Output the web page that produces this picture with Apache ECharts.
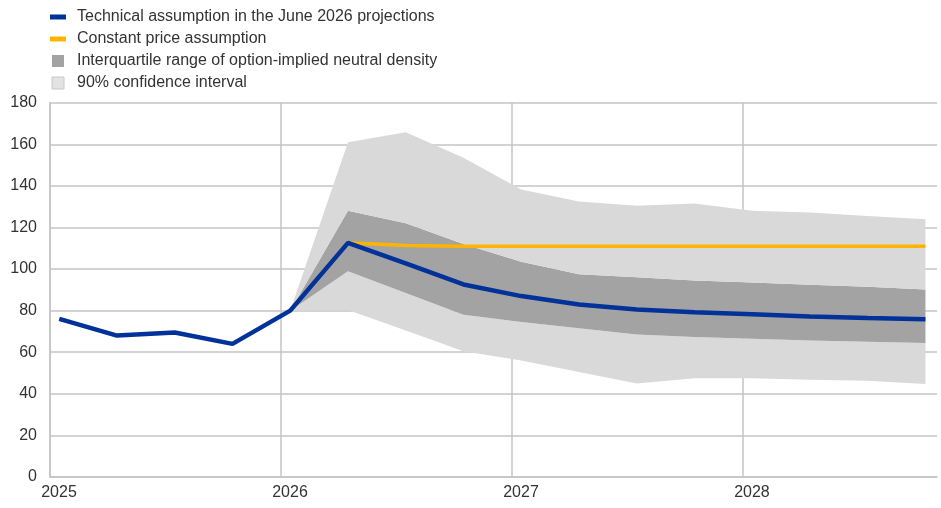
<!DOCTYPE html>
<html>
<head>
<meta charset="utf-8">
<script src="https://cdn.jsdelivr.net/npm/echarts@6/dist/echarts.min.js"></script>
<style>
html,body{margin:0;padding:0;background:#fff;}
#chart{width:941px;height:508px;}
</style>
</head>
<body>
<div id="chart"></div>
<script>
// ---- data ----
const quarters = ['2025Q1','2025Q2','2025Q3','2025Q4','2026Q1','2026Q2','2026Q3','2026Q4',
                  '2027Q1','2027Q2','2027Q3','2027Q4','2028Q1','2028Q2','2028Q3','2028Q4'];
const yearLabels = ['2025','2026','2027','2028'];
const yTicks = [0,20,40,60,80,100,120,140,160,180];

const technical     = [76, 68, 69.5, 64, 80, 112.6, 102.7, 92.6, 87, 83, 80.6, 79.2, 78.3, 77.2, 76.5, 75.9];
const constantPrice = [null, null, null, null, 80, 112.6, 111.3, 111, 111, 111, 111, 111, 111, 111, 111, 111];
const ci90Low       = [null, null, null, null, 80, 80.3, 70.5, 60.5, 56, 50.5, 45, 47.5, 47.5, 46.8, 46.3, 44.7];
const iqrLow        = [null, null, null, null, 80, 99, 88.5, 78, 74.5, 71.5, 68.5, 67.3, 66.5, 65.7, 65, 64.5];
const iqrHigh       = [null, null, null, null, 80, 128, 122, 112, 103.5, 97.5, 96, 94.5, 93.5, 92.5, 91.5, 90.2];
const ci90High      = [null, null, null, null, 80, 161, 165.8, 153.5, 138.2, 132.5, 130.5, 131.5, 128, 127.2, 125.5, 124];

const names = {
  tech: 'Technical assumption in the June 2026 projections',
  cons: 'Constant price assumption',
  iqr: 'Interquartile range of option-implied neutral density',
  ci: '90% confidence interval'
};
const colors = {tech:'#003299', cons:'#ffb400', iqr:'#a3a3a3', ci:'#d9d9d9', grid:'#c4c4c4', text:'#333333'};

// quarter -> position on a continuous year axis (data points sit just after quarter start)
const qx = q => +q.slice(0,4) + (+q[5]-1)/4 + 0.04;
const pairs = arr => quarters.map((q,i)=>[qx(q), arr[i]]).filter(p => p[1] !== null && p[1] !== undefined);
// value first, x second: makes the stack act on the value dimension
const pairsYX = arr => pairs(arr).map(p => [p[1], p[0]]);
const diff = (a,b) => a.map((v,i)=> (v===null||b[i]===null) ? null : +(v-b[i]).toFixed(3));

const bandCommon = {type:'line', stack:'band', symbol:'none', showSymbol:false, lineStyle:{width:0}, silent:true, z:2,
                    encode:{x:1, y:0}};

const option = {
  animation:false,
  textStyle:{fontFamily:'Liberation Sans, Arial, sans-serif'},
  grid:{left:50, right:4, top:102.7, bottom:31, containLabel:false},
  legend:{
    orient:'vertical', left:45, top:4, itemWidth:16, itemHeight:12, itemGap:6,
    textStyle:{fontSize:16, color:colors.text, lineHeight:16, padding:[0,0,0,6], fontFamily:'Liberation Sans, Arial, sans-serif'},
    selectedMode:false,
    data:[
      {name:names.tech, icon:'path://M0,0h16v5h-16z', itemStyle:{color:colors.tech}},
      {name:names.cons, icon:'path://M0,0h16v5h-16z', itemStyle:{color:colors.cons}},
      {name:names.iqr, icon:'path://M0,0h12v12h-12z', itemStyle:{color:colors.iqr}},
      {name:names.ci, icon:'path://M0,0h12v12h-12z', itemStyle:{color:'#e3e3e3', borderColor:'#c8c8c8', borderWidth:1}}
    ]
  },
  xAxis:{
    type:'value', min:2025, max:2028.84, interval:1,
    axisLine:{show:true, lineStyle:{color:colors.grid, width:1.5}},
    axisTick:{show:false},
    splitLine:{show:true, showMaxLine:false, lineStyle:{color:colors.grid, width:1.5}},
    axisLabel:{
      color:colors.text, fontSize:16, margin:8, padding:[0,0,0,18], showMaxLabel:false,
      formatter:v => { const i = Math.round(v) - 2025; return (Math.abs(v-Math.round(v))<1e-6 && yearLabels[i]) ? yearLabels[i] : ''; }
    }
  },
  yAxis:{
    type:'value', min:yTicks[0], max:yTicks[yTicks.length-1], interval:20,
    axisLine:{show:true, lineStyle:{color:colors.grid, width:1.5}},
    axisTick:{show:false},
    splitLine:{show:true, lineStyle:{color:colors.grid, width:1.5}},
    axisLabel:{color:colors.text, fontSize:16, margin:13}
  },
  series:[
    Object.assign({}, bandCommon, {name:'base', data:pairsYX(ci90Low), lineStyle:{width:0, opacity:0}}),
    Object.assign({}, bandCommon, {name:names.ci, color:colors.ci, data:pairsYX(diff(iqrLow, ci90Low)), areaStyle:{color:colors.ci, opacity:1}}),
    Object.assign({}, bandCommon, {name:names.iqr, color:colors.iqr, data:pairsYX(diff(iqrHigh, iqrLow)), areaStyle:{color:colors.iqr, opacity:1}}),
    Object.assign({}, bandCommon, {name:names.ci, color:colors.ci, data:pairsYX(diff(ci90High, iqrHigh)), areaStyle:{color:colors.ci, opacity:1}}),
    {name:names.cons, type:'line', color:colors.cons, symbol:'none', showSymbol:false, data:pairs(constantPrice), lineStyle:{color:colors.cons, width:3.5}, z:3},
    {name:names.tech, type:'line', color:colors.tech, symbol:'none', showSymbol:false, data:pairs(technical), lineStyle:{color:colors.tech, width:4.5}, z:4}
  ]
};
const chart = echarts.init(document.getElementById('chart'), null, {renderer:'canvas'});
chart.setOption(option);
</script>
</body>
</html>
